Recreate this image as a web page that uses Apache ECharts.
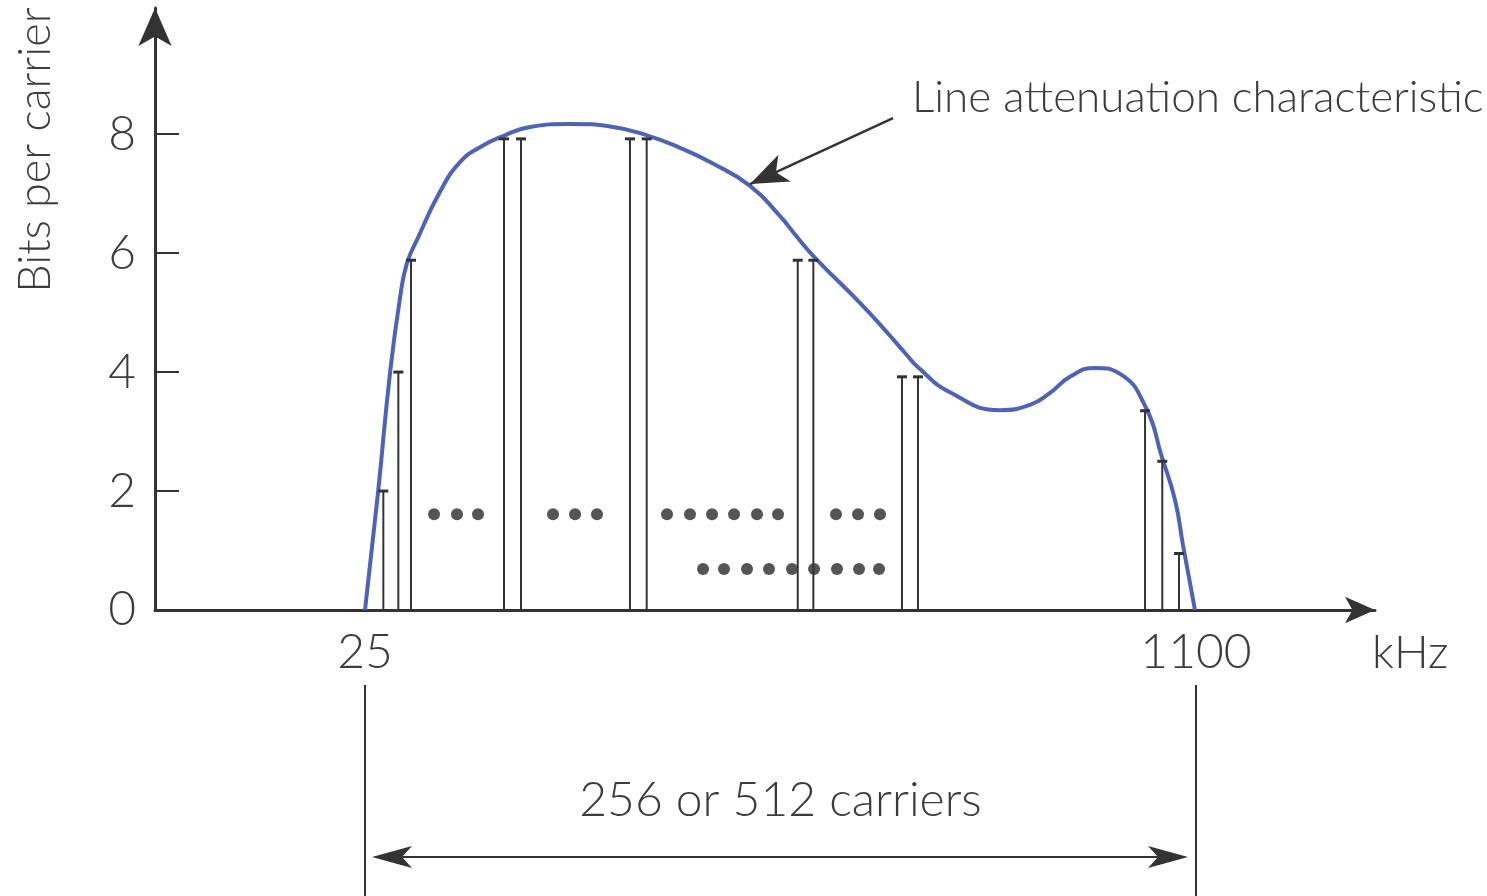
<!DOCTYPE html>
<html>
<head>
<meta charset="utf-8">
<title>Bits per carrier</title>
<script src="https://cdn.jsdelivr.net/npm/echarts@6/dist/echarts.min.js"></script>
<style>
  html, body { margin: 0; padding: 0; background: #fff; }
  #chart { width: 1487px; height: 896px; }
</style>
</head>
<body>
<div id="chart"></div>
<script>
// line attenuation curve (kHz, bits)
const curveKhz = [25, 41.8, 57.3, 70.3, 79.3, 93.6, 122, 147.9, 173.8, 206.1, 238.5, 290.2, 345.8, 389.8, 432.5, 471.3, 523.1, 561.9, 583.9, 607.2, 669.3, 704.2, 723.6, 740.4, 781.8, 846.5, 885.3, 911.2, 937, 969.4, 1001.7, 1035.3, 1056.1, 1072.9, 1083.2, 1098.7]
const curveBits = [0, 1.97, 3.98, 5.25, 5.83, 6.26, 7.03, 7.53, 7.78, 7.98, 8.12, 8.17, 8.12, 7.98, 7.77, 7.53, 7.13, 6.62, 6.27, 5.92, 5.11, 4.61, 4.32, 4.08, 3.66, 3.36, 3.45, 3.65, 3.92, 4.07, 3.97, 3.40, 2.56, 1.85, 1.09, 0]

// individual carriers
const carrierKhz = [48.7, 68.1, 84.5, 204.8, 226.8, 367.8, 389.4, 584.8, 605, 719.7, 740.4, 1034.1, 1056.4, 1078]
const carrierBits = [2, 4, 5.88, 7.92, 7.92, 7.92, 7.92, 5.88, 5.88, 3.92, 3.92, 3.35, 2.5, 0.95]

// "..." dots
const dotsTopKhz = [114.3, 144, 171.2, 268.2, 296.7, 325.1, 415.7, 445.4, 473.9, 502.4, 532.1, 559.3, 634.3, 662.8, 691.2]
const dotsTopBits = 1.61
const dotsLowKhz = [462.3, 489.4, 519.2, 547.6, 577.4, 605.9, 635.6, 664.1, 690]
const dotsLowBits = 0.69

const tickBits = [0, 2, 4, 6, 8]
const tickKhz = [25, 1100]

const fontFamily = 'Lato, "Liberation Sans", sans-serif'
const fontWeight = 300
const textColor = '#3c3c3c'
const ink = '#333'

const chart = echarts.init(document.getElementById('chart'))

const option = {
  animation: false,
  grid: { left: 155, right: 112, top: 8, bottom: 286 },
  xAxis: {
    type: 'value',
    min: -246.7,
    max: 1331.6,
    name: 'kHz',
    nameLocation: 'end',
    nameGap: -3,
    nameTextStyle: { fontSize: 46, color: textColor, fontFamily: fontFamily, fontWeight: fontWeight, verticalAlign: 'top', padding: [20, 0, 0, 0] },
    axisLine: {
      onZero: false,
      lineStyle: { color: ink, width: 3 },
      symbol: ['none', 'arrow'],
      symbolSize: [20, 30]
    },
    axisTick: { show: false },
    splitLine: { show: false },
    axisLabel: {
      customValues: tickKhz,
      formatter: v => String(v),
      fontSize: 48, margin: 19, color: textColor, fontFamily: fontFamily, fontWeight: fontWeight
    }
  },
  yAxis: {
    type: 'value',
    min: 0,
    max: 10.12,
    axisLine: {
      show: true,
      onZero: false,
      lineStyle: { color: ink, width: 3 },
      symbol: ['none', 'arrow'],
      symbolSize: [25, 38]
    },
    axisTick: { show: true, inside: true, length: 24, customValues: tickBits, lineStyle: { color: ink, width: 2 } },
    splitLine: { show: false },
    axisLabel: { customValues: tickBits, fontSize: 48, margin: 19, color: textColor, fontFamily: fontFamily, fontWeight: fontWeight }
  },
  series: [
    {
      name: 'Line attenuation characteristic',
      type: 'line',
      data: curveKhz.map((k, i) => [k, curveBits[i]]),
      smooth: 0.5,
      showSymbol: false,
      lineStyle: { color: '#4d63b8', width: 4 },
      z: 2,
      markLine: {
        silent: true,
        symbolSize: [22, 38],
        label: { show: false },
        lineStyle: { type: 'solid', color: ink, width: 2.5 },
        data: [[
          { coord: [708.1, 8.27], symbol: 'none' },
          { coord: [523.1, 7.16], symbol: 'arrow' }
        ]]
      }
    },
    {
      name: 'carriers',
      type: 'custom',
      z: 3,
      data: carrierKhz.map((k, i) => [k, carrierBits[i]]),
      renderItem: function (params, api) {
        const base = api.coord([api.value(0), 0])
        const top = api.coord([api.value(0), api.value(1)])
        return {
          type: 'group',
          children: [
            { type: 'line', shape: { x1: base[0], y1: base[1], x2: top[0], y2: top[1] }, style: { stroke: ink, lineWidth: 2 } },
            { type: 'line', shape: { x1: top[0] - 5, y1: top[1], x2: top[0] + 5, y2: top[1] }, style: { stroke: ink, lineWidth: 3 } }
          ]
        }
      }
    },
    {
      name: 'dots',
      type: 'scatter',
      symbolSize: 12,
      itemStyle: { color: '#2a2a2a' },
      data: dotsTopKhz.map(k => [k, dotsTopBits]).concat(dotsLowKhz.map(k => [k, dotsLowBits]))
    }
  ]
}
chart.setOption(option)

// annotations outside the plot, placed from the axis scale
const p25 = chart.convertToPixel({ gridIndex: 0 }, [25, 0])
const p1100 = chart.convertToPixel({ gridIndex: 0 }, [1100, 0])
const x1 = Math.round(p25[0])
const x2 = Math.round(p1100[0])
const ay = 857
const head = 40
const textStyle = { fontFamily: fontFamily, fontWeight: fontWeight, fill: textColor, verticalAlign: 'middle' }
chart.setOption({
  graphic: [
    {
      type: 'text', x: 35, y: 150, rotation: Math.PI / 2,
      style: Object.assign({ text: 'Bits per carrier', fontSize: 45, align: 'center' }, textStyle)
    },
    {
      type: 'text', x: 912, y: 98,
      style: Object.assign({ text: 'Line attenuation characteristic', fontSize: 44, align: 'left' }, textStyle)
    },
    {
      type: 'text', x: (x1 + x2) / 2, y: 801,
      style: Object.assign({ text: '256 or 512 carriers', fontSize: 48, align: 'center' }, textStyle)
    },
    { type: 'line', shape: { x1: x1, y1: 685, x2: x1, y2: 896 }, style: { stroke: ink, lineWidth: 2 } },
    { type: 'line', shape: { x1: x2, y1: 685, x2: x2, y2: 896 }, style: { stroke: ink, lineWidth: 2 } },
    { type: 'line', shape: { x1: x1 + 15, y1: ay, x2: x2 - 15, y2: ay }, style: { stroke: ink, lineWidth: 2 } },
    {
      type: 'polygon',
      shape: { points: [[x1 + 7, ay], [x1 + 7 + head, ay - 11], [x1 + head - 3, ay], [x1 + 7 + head, ay + 11]] },
      style: { fill: ink }
    },
    {
      type: 'polygon',
      shape: { points: [[x2 - 8, ay], [x2 - 8 - head, ay - 11], [x2 - head + 2, ay], [x2 - 8 - head, ay + 11]] },
      style: { fill: ink }
    }
  ]
})
</script>
</body>
</html>
